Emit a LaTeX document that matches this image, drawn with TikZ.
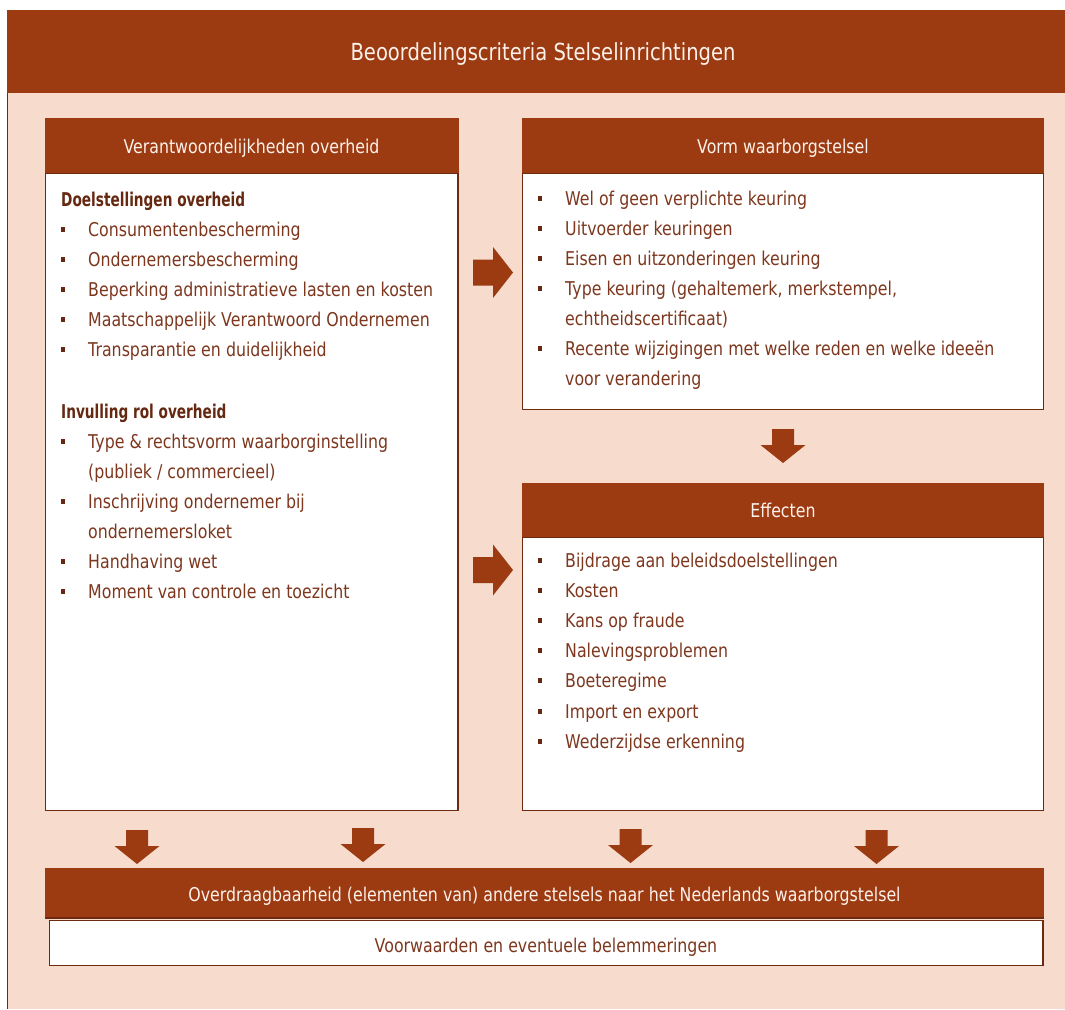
\documentclass[tikz,border=0pt]{standalone}
\usepackage{fontspec}
\setmainfont{DejaVu Sans}[FakeStretch=0.832]
\newfontfamily\hbold{DejaVu Sans}[FakeStretch=0.72]
\definecolor{hdr}{HTML}{9C3A12}
\definecolor{pinkbg}{HTML}{F7DBCD}
\definecolor{brd}{HTML}{6E2A0E}
\definecolor{txt}{HTML}{7D371E}
\definecolor{bld}{HTML}{652810}
\definecolor{htxt}{HTML}{FDF1EA}
\begin{document}
\begin{tikzpicture}[x=1pt,y=-1pt,
  body/.style={font=\fontsize{19}{22}\selectfont},
  line/.style={body, anchor=base west, inner sep=0pt, text=txt},
  bhead/.style={anchor=base west, inner sep=0pt, text=bld, font=\hbold\bfseries\fontsize{19}{22}\selectfont},
  htext/.style={body, anchor=base, inner sep=0pt, text=htxt},
  bul/.style={fill=bld, inner sep=0pt, minimum width=4.5pt, minimum height=5pt},
  hbar/.style={fill=hdr, draw=none},
  wbox/.style={fill=white, draw=brd, line width=1.4pt},
  blk/.style={fill=hdr, draw=none}
]
\useasboundingbox (0,0) rectangle (1065,1009);
\fill[white] (0,0) rectangle (1065,1009);
% outer frame
\fill[pinkbg] (7,10) rectangle (1065,1009);
\fill[hdr] (7,10) rectangle (1065,93);
\draw[brd, line width=1.2pt] (7.6,93) -- (7.6,1009);
\node[htext, font=\fontsize{23.5}{27}\selectfont] (title) at (543,60) {Beoordelingscriteria Stelselinrichtingen};

% left box
\draw[wbox] (45.7,173) rectangle (458,810.5);
\fill[hbar] (45,118) rectangle (458.7,173);
\node[htext] (Lt) at (251.5,153) {Verantwoordelijkheden overheid};
\node[bhead] (Lb1) at (61,206.5) {Doelstellingen overheid};
\foreach \t [count=\i] in {Consumentenbescherming,Ondernemersbescherming,Beperking administratieve lasten en kosten,Maatschappelijk Verantwoord Ondernemen,Transparantie en duidelijkheid}{
  \node[line] (La\i) at (88,{206.5+30*\i}) {\t};
  \node[bul] (Lba\i) at (63,{206.5+30*\i-7}) {};
}
\node[bhead] (Lb2) at (61,418) {Invulling rol overheid};
\node[line] (Lc1) at (88,448) {Type \& rechtsvorm waarborginstelling};
\node[line] (Lc2) at (88,478) {(publiek / commercieel)};
\node[line] (Lc3) at (88,508) {Inschrijving ondernemer bij};
\node[line] (Lc4) at (88,538) {ondernemersloket};
\node[line] (Lc5) at (88,568) {Handhaving wet};
\node[line] (Lc6) at (88,598) {Moment van controle en toezicht};
\foreach \yy [count=\i] in {448,508,568,598}{
  \node[bul] (Lbc\i) at (63,\yy-7) {};
}

% right top box
\draw[wbox] (522.7,173) rectangle (1043.3,409.5);
\fill[hbar] (522,118) rectangle (1044,173);
\node[htext] (Rt) at (783,153) {Vorm waarborgstelsel};
\node[line] (R1) at (565,205) {Wel of geen verplichte keuring};
\node[line] (R2) at (565,235) {Uitvoerder keuringen};
\node[line] (R3) at (565,265) {Eisen en uitzonderingen keuring};
\node[line] (R4) at (565,295) {Type keuring (gehaltemerk, merkstempel,};
\node[line] (R5) at (565,325) {echtheidscertificaat)};
\node[line] (R6) at (565,355) {Recente wijzigingen met welke reden en welke ideeën};
\node[line] (R7) at (565,385) {voor verandering};
\foreach \yy [count=\i] in {205,235,265,295,355}{
  \node[bul] (Rb\i) at (540,\yy-7) {};
}

% effecten box
\draw[wbox] (522.7,537) rectangle (1043.3,810.5);
\fill[hbar] (522,483) rectangle (1044,537);
\node[htext] (Et) at (783,517) {Effecten};
\foreach \t [count=\i] in {Bijdrage aan beleidsdoelstellingen,Kosten,Kans op fraude,Nalevingsproblemen,Boeteregime,Import en export,Wederzijdse erkenning}{
  \node[line] (E\i) at (565,{567+30.2*(\i-1)}) {\t};
  \node[bul] (Eb\i) at (540,{567+30.2*(\i-1)-7}) {};
}

% bottom bar
\fill[hbar] (45,868) rectangle (1044,918);
\draw[brd, line width=1.4pt] (45,918) -- (1044,918);
\node[htext] (Bt) at (544.5,901) {Overdraagbaarheid (elementen van) andere stelsels naar het Nederlands waarborgstelsel};
\draw[wbox] (49.7,920.5) rectangle (1042.8,965.5);
\node[line, anchor=base] (Vt) at (546,952) {Voorwaarden en eventuele belemmeringen};

% block arrows: right
\foreach \cy [count=\i] in {272.5,570}{
  \fill[blk] (473,\cy-13) -- (493,\cy-13) -- (493,\cy-25.5) -- (513,\cy) -- (493,\cy+25.5) -- (493,\cy+13) -- (473,\cy+13) -- cycle;
}
% block arrows: down
\foreach \cx/\ty in {783/429,137/830,363/828,630.5/829,876.5/830}{
  \fill[blk] (\cx-11,\ty) -- (\cx+11,\ty) -- (\cx+11,\ty+16) -- (\cx+22.5,\ty+16) -- (\cx,\ty+34) -- (\cx-22.5,\ty+16) -- (\cx-11,\ty+16) -- cycle;
}
\end{tikzpicture}
\end{document}
